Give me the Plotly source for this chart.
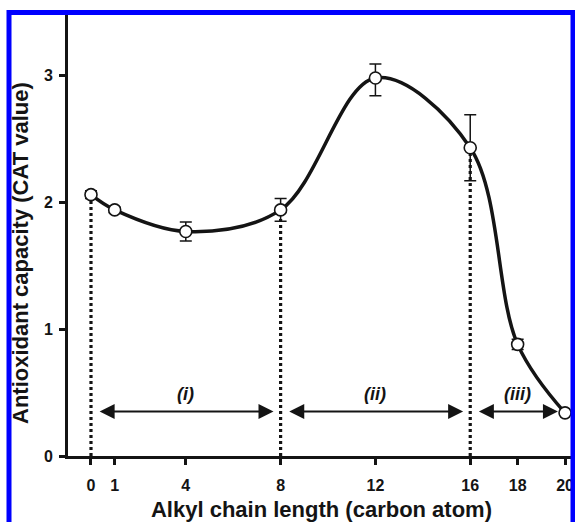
import plotly.graph_objects as go

# ---- data ----
chain_length = [0, 1, 4, 8, 12, 16, 18, 20]
cat_value = [2.06, 1.94, 1.77, 1.94, 2.98, 2.43, 0.88, 0.34]
err_plus = [0.03, 0.02, 0.075, 0.09, 0.11, 0.26, 0.04, 0.0]
err_minus = [0.03, 0.02, 0.075, 0.09, 0.14, 0.26, 0.04, 0.0]
x_ticks = [0, 1, 4, 8, 12, 16, 18, 20]
y_ticks = [0, 1, 2, 3]
region_bounds = [0, 8, 16, 20]
region_labels = ["(i)", "(ii)", "(iii)"]
divider_x = [0, 8, 16]
x_title = "Alkyl chain length (carbon atom)"
y_title = "Antioxidant capacity (CAT value)"

INK = "#141414"
FONT = "Liberation Sans, Arial, sans-serif"

# plot-area geometry (pixels)
L, R, T, B = 68, 0, 12, 66
W, H = 575, 522
PW, PH = W - L - R, H - T - B


def px_to_paper_x(px):
    return (px - L) / PW


def py_to_paper_y(py):
    return (H - B - py) / PH


fig = go.Figure()

# dotted dividers from axis to the data point
for dx in divider_x:
    yv = cat_value[chain_length.index(dx)]
    fig.add_trace(go.Scatter(
        x=[dx, dx], y=[0, yv], mode="lines",
        line=dict(color=INK, width=3.2, dash="3px,3px"),
        hoverinfo="skip", showlegend=False))

# main curve
fig.add_trace(go.Scatter(
    x=chain_length, y=cat_value, mode="lines",
    line=dict(color=INK, width=3.5, shape="spline", smoothing=1),
    showlegend=False))

# markers with error bars
fig.add_trace(go.Scatter(
    x=chain_length, y=cat_value, mode="markers",
    marker=dict(size=12, color="white", line=dict(color=INK, width=1.6)),
    error_y=dict(type="data", array=err_plus, arrayminus=err_minus,
                 color=INK, thickness=1.5, width=6),
    showlegend=False))

# region arrows and labels
ARROW_Y = 0.35
GAP = 0.3
for i, lab in enumerate(region_labels):
    a, b = region_bounds[i], region_bounds[i + 1]
    fig.add_annotation(
        x=b - GAP, y=ARROW_Y, ax=a + GAP, ay=ARROW_Y,
        xref="x", yref="y", axref="x", ayref="y",
        showarrow=True, arrowhead=2, startarrowhead=2,
        arrowside="end+start", arrowsize=1.5, startarrowsize=1.5,
        arrowwidth=2, arrowcolor=INK, text="")
    fig.add_annotation(
        x=(a + b) / 2, y=ARROW_Y, yshift=18, xref="x", yref="y",
        text="<b><i>" + lab + "</i></b>", showarrow=False,
        font=dict(family=FONT, size=18, color=INK))

# y-axis title
fig.add_annotation(
    x=px_to_paper_x(20), y=py_to_paper_y(253), xref="paper", yref="paper",
    text="<b>" + y_title + "</b>", textangle=-90, showarrow=False,
    xanchor="center", yanchor="middle",
    font=dict(family=FONT, size=22, color=INK))

# blue frame
fig.add_shape(type="rect", xref="paper", yref="paper",
              x0=px_to_paper_x(9), x1=px_to_paper_x(573),
              y0=-0.3, y1=py_to_paper_y(12.5),
              line=dict(color="#0000ff", width=5), layer="above")

fig.update_layout(
    width=W, height=H,
    margin=dict(l=L, r=R, t=T, b=B),
    paper_bgcolor="white", plot_bgcolor="white",
    font=dict(family=FONT, color=INK),
    xaxis=dict(
        range=[-0.97, 20.42], tickmode="array", tickvals=x_ticks,
        ticktext=[str(v) for v in x_ticks],
        showgrid=False, zeroline=False, showline=True,
        linecolor=INK, linewidth=3, ticks="outside", ticklen=6,
        tickwidth=2.5, tickcolor=INK, ticklabelstandoff=7,
        tickfont=dict(family=FONT, size=16, weight="bold", color=INK),
        title=dict(text=x_title, standoff=10,
                   font=dict(family=FONT, size=22, weight="bold", color=INK))),
    yaxis=dict(
        range=[0, 3.5], tickmode="array", tickvals=y_ticks,
        showgrid=False, zeroline=False, showline=True,
        linecolor=INK, linewidth=3, ticks="outside", ticklen=6,
        tickwidth=2.5, tickcolor=INK, ticklabelstandoff=3,
        tickfont=dict(family=FONT, size=16, weight="bold", color=INK)),
)

fig.write_html("out.html")
